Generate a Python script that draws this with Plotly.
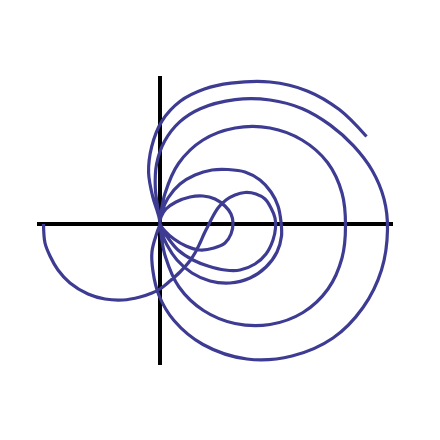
import plotly.graph_objects as go

# Curve points (data units, origin at the axes crossing)
tail_x = [-116.5, -115, -110, -102, -90, -72, -55, -37, -20, -8, 0, 10, 20, 29, 35, 40, 44, 48, 52, 58, 66, 75, 85]
tail_y = [-0.5, -19.5, -32.5, -46.5, -59.5, -70.5, -75.5, -76.5, -73.5, -69.5, -65.5, -57.5, -48.5, -38.5, -29.5, -19.5, -10.5, -2.5, 5.5, 15.5, 23.5, 28.5, 31]

sloop_x = [96, 105, 111, 115, 115.5, 113, 106, 95, 80, 65, 48, 33, 18, 8, 2, 0]
sloop_y = [29.5, 24.5, 15.5, 5.5, -4.5, -16.5, -30.5, -40.5, -46.5, -46.5, -42.5, -36.5, -26.5, -14.5, -5.5, 0]

small_x = [1, 6, 16, 30, 43, 55, 65, 71, 73, 71, 65, 54, 40, 26, 14, 5, 0]
small_y = [6.5, 14.5, 21.5, 26.5, 27.5, 24.5, 17.5, 9.5, 0.5, -10.5, -19.5, -24.5, -26.5, -22.5, -15.5, -7.5, 0]

l170_x = [2, 8, 20, 35, 52, 68, 85, 100, 111, 118, 121, 121.5, 117, 106, 90, 70, 50, 32, 17, 7, 1.5, 0]
l170_y = [11.5, 25.5, 39.5, 48.5, 53.5, 54, 51.5, 43.5, 31.5, 17.5, 1.5, -12.5, -28.5, -43.5, -54.5, -59.5, -57.5, -49.5, -36.5, -21.5, -8.5, 0]

l126_x = [1, 5, 18.5, 43, 75, 110, 142, 167.5, 182, 185.5, 182, 168, 143, 110, 75, 43.5, 19, 5.5, 1.5, 0]
l126_y = [10, 30, 60, 83.5, 95.5, 95.5, 83.5, 61, 30.5, -2, -34.5, -65.5, -89, -101, -100, -87, -63.5, -33.5, -14, 0]

l100_x = [-2, -4.7, -3.4, 4.7, 19.7, 40.3, 75.2, 110, 142.4, 170.3, 193.6, 212.2, 224, 227.5,
          221.5, 203, 173, 132, 87, 43, 14, -1, -7, -8, -3, 0]
l100_y = [14, 35.7, 59.5, 82.4, 101.6, 114.8, 123.9, 123.5, 114.8, 98.4, 77.6, 53, 24.6, -6,
          -46.5, -84, -114.5, -132.5, -135.5, -121, -97, -72, -48, -28, -9, 0]

l82_x = [-2, -6.9, -11.4, -8.3, 1.8, 20.2, 44.4, 70.8, 110, 147.2, 179.3, 206.5]
l82_y = [10, 25.3, 50.7, 76.9, 102.2, 122.2, 134.4, 140.3, 141.5, 132.6, 113.9, 87]

xs = tail_x + sloop_x + small_x + l170_x + l126_x + l100_x + l82_x
ys = tail_y + sloop_y + small_y + l170_y + l126_y + l100_y + l82_y

fig = go.Figure(go.Scatter(
    x=xs, y=ys, mode="lines",
    line=dict(color="#3d3b92", width=3.2, shape="spline", smoothing=1.0),
    hoverinfo="skip", showlegend=False,
))

axis_common = dict(showgrid=False, showticklabels=False, ticks="", showline=False,
                   zeroline=True, zerolinecolor="black", zerolinewidth=4)
fig.update_layout(
    width=440, height=440,
    margin=dict(l=29, r=55, t=68, b=83, pad=0),
    paper_bgcolor="white", plot_bgcolor="white",
    xaxis=dict(range=[-123, 233], **axis_common),
    yaxis=dict(range=[-141.5, 147.5], **axis_common),
)
fig.write_html("out.html")
